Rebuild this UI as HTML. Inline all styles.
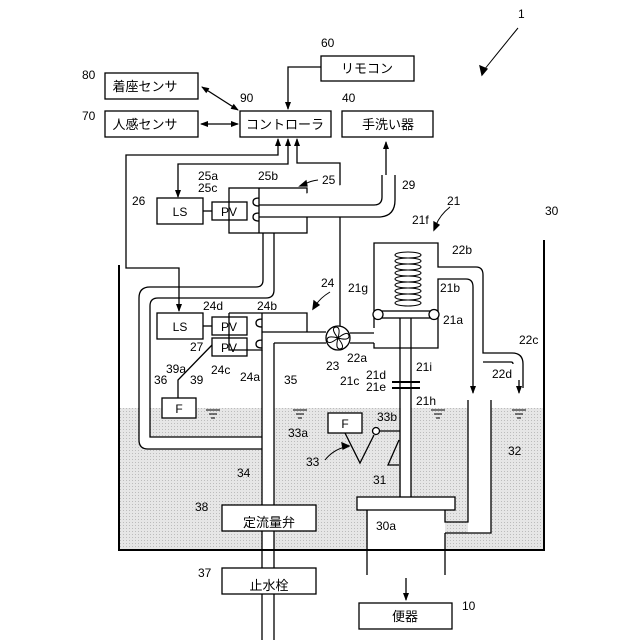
<!DOCTYPE html>
<html><head><meta charset="utf-8"><style>
body{margin:0;background:#fff}
svg{display:block}
text{font-family:"Liberation Sans","Noto Sans CJK JP",sans-serif;font-size:12px;fill:#000}
.j{font-size:13px}
</style></head><body>
<svg width="640" height="640" viewBox="0 0 640 640" xmlns="http://www.w3.org/2000/svg">
<defs>
<marker id="a" markerWidth="8" markerHeight="8" refX="7" refY="4" orient="auto" markerUnits="userSpaceOnUse"><path d="M0,1 L8,4 L0,7 Z" fill="#000"/></marker>
<marker id="as" markerWidth="8" markerHeight="8" refX="1" refY="4" orient="auto" markerUnits="userSpaceOnUse"><path d="M8,1 L0,4 L8,7 Z" fill="#000"/></marker>
<pattern id="dot" width="3" height="3" patternUnits="userSpaceOnUse"><rect width="3" height="3" fill="#e6e6e6"/><rect width="1" height="1" fill="#bcbcbc"/></pattern>
</defs>
<g fill="none" stroke="#000" stroke-width="1.3">
<rect x="120" y="408" width="424" height="142" fill="url(#dot)" stroke="none"/>
<rect x="262" y="408" width="12" height="142" fill="#fff" stroke="none"/>
<rect x="368" y="510" width="77" height="40" fill="#fff" stroke="none"/>
<rect x="468" y="400" width="23" height="133" fill="#fff" stroke="none"/>
<rect x="401" y="408" width="10" height="89" fill="#fff" stroke="none"/>
<path d="M150,408 V437 H262 V449 H146 Q139,449 139,440 V408 Z" fill="#fff" stroke="none"/>
<path d="M119,265 V550 H544 V240" stroke-width="2"/>
<rect x="105" y="73" width="93" height="26"/>
<rect x="105" y="111" width="93" height="26"/>
<rect x="240" y="111" width="91" height="26"/>
<rect x="342" y="111" width="91" height="26"/>
<rect x="321" y="56" width="93" height="25"/>
<path d="M321,67 H288 V109" marker-end="url(#a)"/>
<path d="M202,87 L238,110" marker-end="url(#a)" marker-start="url(#as)"/>
<path d="M201,124 H238" marker-end="url(#a)" marker-start="url(#as)"/>
<path d="M278,139 V155 H126 V268 H179 V311" marker-start="url(#as)" marker-end="url(#a)"/>
<path d="M288,139 V164 H178 V197" marker-start="url(#as)" marker-end="url(#a)"/>
<path d="M297,139 V163 H340 V326" marker-start="url(#as)"/>
<path d="M386,175 V142" marker-end="url(#a)"/>
<rect x="157" y="198" width="46" height="26"/>
<rect x="212" y="202" width="35" height="18"/>
<path d="M203,211 H212"/>
<rect x="229" y="188" width="78" height="45"/>
<path d="M259,188 V233 M259,198 q-6,0 -6,4 q0,4 6,4 M259,213 q-6,0 -6,4 q0,4 6,4"/>
<path d="M259,205 H374 Q382,205 382,197 V175 M259,217 H378 Q395,217 395,200 V175" fill="#fff"/>
<path d="M263,233 V280 Q263,287 256,287 H150 Q139,287 139,298 V440 Q139,449 148,449 H262"/>
<path d="M274,233 V290 Q274,298 266,298 H158 Q150,298 150,306 V437 H262"/>
<rect x="157" y="313" width="46" height="26"/>
<rect x="212" y="317" width="35" height="18"/>
<rect x="212" y="338" width="35" height="18"/>
<path d="M203,326 H212"/>
<path d="M229,313 H307 V332 M229,313 V350 H262 V313 M262,319 q-6,0 -6,4 q0,4 6,4 M262,340 q-6,0 -6,4 q0,4 6,4"/>
<path d="M262,332 H326 M274,343 H326 M262,350 V640 M274,343 V640"/>
<circle cx="338" cy="338" r="12" fill="#fff"/>
<path d="M338,338 q-8,-10 -2,-11 q5,0 2,11 q10,-8 11,-2 q0,5 -11,2 q8,10 2,11 q-5,0 -2,-11 q-10,8 -11,2 q0,-5 11,-2" stroke-width="1"/>
<path d="M350,333 H374 M350,343 H374"/>
<path d="M374,328 V243 H438 V267 H476 Q483,267 483,275 V353 H512 Q523,353 523,364 V388"/>
<path d="M374,343 V348 H438 V279 H466 Q473,279 473,287 V385" />
<path d="M473,385 V393" marker-end="url(#a)"/>
<path d="M513,364 Q513,362 511,362 H483 M519,380 V393" marker-end="url(#a)"/>
<path d="M400,318 V497 M411,318 V497"/>
<rect x="378" y="311" width="56" height="7" fill="#fff"/>
<circle cx="378" cy="314.5" r="5" fill="#fff"/>
<circle cx="434" cy="314.5" r="5" fill="#fff"/>
<g stroke-width="1.1">
<ellipse cx="408" cy="255" rx="13" ry="3"/><ellipse cx="408" cy="261" rx="13" ry="3"/><ellipse cx="408" cy="267" rx="13" ry="3"/><ellipse cx="408" cy="273" rx="13" ry="3"/><ellipse cx="408" cy="279" rx="13" ry="3"/><ellipse cx="408" cy="285" rx="13" ry="3"/><ellipse cx="408" cy="291" rx="13" ry="3"/><ellipse cx="408" cy="297" rx="13" ry="3"/><ellipse cx="408" cy="303" rx="13" ry="3"/>
</g>
<path d="M392,382 H420 M392,388 H420" stroke-width="2"/>
<rect x="357" y="497" width="98" height="13" fill="#fff"/>
<path d="M367,510 V575 M445,533 V575 M445,510 V522 H468 V400 M445,533 H491 V400"/>
<rect x="328" y="413" width="34" height="20" fill="#fff"/>
<path d="M345,433 L360,463 L374,435 M379,431 H400 M399,440 L388,465 H399"/>
<circle cx="376" cy="431" r="3.5" fill="#fff"/>
<rect x="162" y="398" width="34" height="20" fill="#fff"/>
<path d="M178,398 V380 L212,345"/>
<rect x="222" y="505" width="94" height="26" fill="#fff"/>
<rect x="222" y="568" width="94" height="26" fill="#fff"/>
<rect x="359" y="603" width="93" height="26" fill="#fff"/>
<path d="M406,578 V600" marker-end="url(#a)"/>
<g stroke-width="1"><path d="M206,410 h14 M209,414 h8 M211,418 h4 M293,410 h14 M296,414 h8 M298,418 h4 M431,410 h14 M434,414 h8 M436,418 h4 M512,410 h14 M515,414 h8 M517,418 h4"/></g>
<path d="M518,28 Q500,50 484,70" stroke-width="1"/><path d="M482,75 l-2,-9 l7,3 z" fill="#000"/>
<path d="M450,207 Q440,215 436,225" stroke-width="1"/><path d="M434,230 l0,-8 l5,3 z" fill="#000"/>
<path d="M318,180 Q310,181 305,184" stroke-width="1"/><path d="M300,186 l6,-5 l1,5 z" fill="#000"/>
<path d="M330,292 Q320,298 316,305" stroke-width="1"/><path d="M313,309 l1,-8 l5,4 z" fill="#000"/>
<path d="M325,460 Q333,450 345,447" stroke-width="1"/><path d="M349,446 l-7,-3 l1,6 z" fill="#000"/>
</g>
<text x="145" y="91" class="j" text-anchor="middle">着座センサ</text>
<text x="145" y="129" class="j" text-anchor="middle">人感センサ</text>
<text x="285" y="129" class="j" text-anchor="middle">コントローラ</text>
<text x="388" y="129" class="j" text-anchor="middle">手洗い器</text>
<text x="367" y="73" class="j" text-anchor="middle">リモコン</text>
<text x="269" y="527" class="j" text-anchor="middle">定流量弁</text>
<text x="269" y="590" class="j" text-anchor="middle">止水栓</text>
<text x="405" y="621" class="j" text-anchor="middle">便器</text>
<text x="180" y="216" text-anchor="middle" font-size="13">LS</text>
<text x="229" y="216" text-anchor="middle" font-size="13">PV</text>
<text x="180" y="331" text-anchor="middle" font-size="13">LS</text>
<text x="229" y="331" text-anchor="middle" font-size="13">PV</text>
<text x="229" y="352" text-anchor="middle" font-size="13">PV</text>
<text x="179" y="413" text-anchor="middle" font-size="13">F</text>
<text x="345" y="428" text-anchor="middle" font-size="13">F</text>
<g font-size="11">
<text x="518" y="18">1</text>
<text x="321" y="47">60</text>
<text x="82" y="79">80</text>
<text x="82" y="120">70</text>
<text x="240" y="102">90</text>
<text x="342" y="102">40</text>
<text x="198" y="180">25a</text>
<text x="198" y="192">25c</text>
<text x="258" y="180">25b</text>
<text x="322" y="184">25</text>
<text x="132" y="205">26</text>
<text x="402" y="189">29</text>
<text x="447" y="205">21</text>
<text x="545" y="215">30</text>
<text x="412" y="224">21f</text>
<text x="452" y="254">22b</text>
<text x="348" y="292">21g</text>
<text x="440" y="292">21b</text>
<text x="443" y="324">21a</text>
<text x="321" y="287">24</text>
<text x="203" y="310">24d</text>
<text x="257" y="310">24b</text>
<text x="190" y="351">27</text>
<text x="166" y="373">39a</text>
<text x="211" y="374">24c</text>
<text x="240" y="381">24a</text>
<text x="190" y="384">39</text>
<text x="154" y="384">36</text>
<text x="284" y="384">35</text>
<text x="326" y="370">23</text>
<text x="347" y="362">22a</text>
<text x="340" y="385">21c</text>
<text x="366" y="379">21d</text>
<text x="366" y="391">21e</text>
<text x="416" y="371">21i</text>
<text x="416" y="405">21h</text>
<text x="519" y="344">22c</text>
<text x="492" y="378">22d</text>
<text x="377" y="421">33b</text>
<text x="288" y="437">33a</text>
<text x="306" y="466">33</text>
<text x="508" y="455">32</text>
<text x="237" y="477">34</text>
<text x="373" y="484">31</text>
<text x="195" y="511">38</text>
<text x="376" y="530">30a</text>
<text x="198" y="577">37</text>
<text x="462" y="610">10</text>
</g>
</svg>
</body></html>
